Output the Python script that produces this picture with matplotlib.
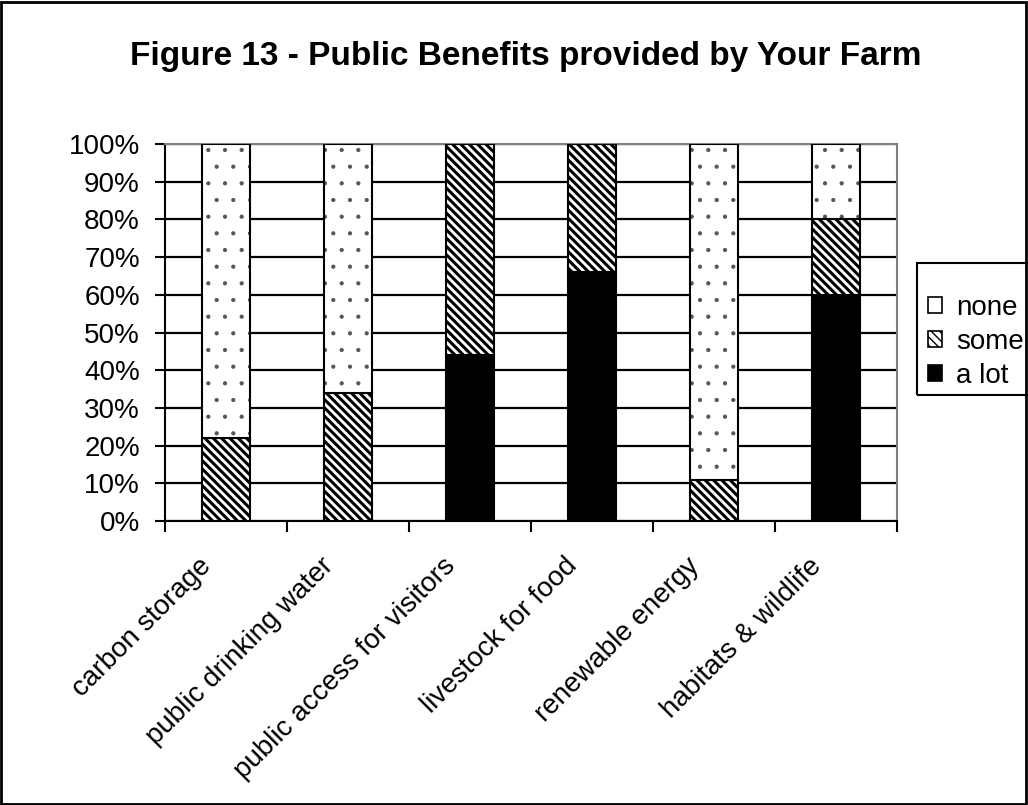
import numpy as np
import matplotlib as mpl
import matplotlib.pyplot as plt
from matplotlib.patches import Rectangle, Patch
from matplotlib.transforms import ScaledTranslation

plt.rcParams['font.family'] = ['Liberation Sans', 'DejaVu Sans']

categories = ['carbon storage', 'public drinking water', 'public access for visitors',
              'livestock for food', 'renewable energy', 'habitats & wildlife']
a_lot = [0, 0, 44, 66, 0, 60]
some = [22, 34, 56, 34, 11, 20]
none = [78, 66, 0, 0, 89, 20]
yticks = list(range(0, 101, 10))

fig = plt.figure(figsize=(10.28, 8.05), dpi=100)
ax = fig.add_axes([0.1605, 0.3528, 0.7121, 0.4683])

x = np.arange(len(categories))
w = 0.39
a_lot = np.array(a_lot)
some = np.array(some)
none = np.array(none)


def set_hatch_lw(bars, lw):
    for p in bars:
        if hasattr(p, 'set_hatch_linewidth'):
            p.set_hatch_linewidth(lw)


# solid black segment
ax.bar(x, a_lot, w, color='black', edgecolor='black', linewidth=1.5, zorder=3)

# striped segment
with mpl.rc_context({'hatch.linewidth': 2.2}):
    b = ax.bar(x, some, w, bottom=a_lot, color='white', edgecolor='black',
               hatch='\\\\\\\\', linewidth=1.5, zorder=3)
set_hatch_lw(b, 2.2)

# dotted segment: grey dots, black outline drawn on top
with mpl.rc_context({'hatch.linewidth': 0.6}):
    b = ax.bar(x, none, w, bottom=a_lot + some, color='white', edgecolor='#555555',
               hatch='.', linewidth=0, zorder=3)
set_hatch_lw(b, 0.6)
ax.bar(x, none, w, bottom=a_lot + some, fill=False, edgecolor='black',
       linewidth=1.5, zorder=4)

ax.set_xlim(-0.5, len(categories) - 0.5)
ax.set_ylim(0, 100)
ax.set_yticks(yticks)
ax.set_yticklabels([f'{v}%' for v in yticks], fontsize=20)
ax.yaxis.grid(True, color='black', linewidth=1.6, zorder=0)
ax.set_axisbelow(True)

ax.set_xticks(np.arange(-0.5, len(categories), 1.0))
ax.set_xticklabels([])
ax.set_xticks(x, minor=True)
ax.set_xticklabels(categories, minor=True, rotation=45, ha='right', va='top',
                   rotation_mode='anchor', fontsize=20)
ax.tick_params(axis='x', which='major', length=8, width=1.5, direction='out')
ax.tick_params(axis='x', which='minor', length=0, pad=23)
ax.tick_params(axis='y', length=7, width=1.5, direction='out', pad=11)
shift = ScaledTranslation(-28 / 100, 0, fig.dpi_scale_trans)
for lab in ax.xaxis.get_minorticklabels():
    lab.set_transform(lab.get_transform() + shift)

for side in ['left', 'bottom']:
    ax.spines[side].set_color('black')
    ax.spines[side].set_linewidth(1.5)
for side in ['top', 'right']:
    ax.spines[side].set_color('#808080')
    ax.spines[side].set_linewidth(1.5)

# legend: box drawn separately, it runs off the right edge
with mpl.rc_context({'hatch.linewidth': 1.6}):
    handles = [Patch(facecolor='white', edgecolor='black', linewidth=1.2, label='none'),
               Patch(facecolor='white', edgecolor='black', hatch='\\\\\\\\', linewidth=1.2,
                     label='some'),
               Patch(facecolor='black', edgecolor='black', linewidth=1.2, label='a lot')]
fig.legend(handles=handles, loc='upper left', bbox_to_anchor=(928 / 1028, 1 - 295 / 805),
           fontsize=20, frameon=False, handlelength=0.5, handleheight=0.5,
           handletextpad=0.52, labelspacing=0.29, borderpad=0, borderaxespad=0)
fig.patches.append(Rectangle((917 / 1028, 1 - 395 / 805), 0.2, 132 / 805,
                             transform=fig.transFigure, fill=False,
                             edgecolor='black', linewidth=1.5))

fig.text(0.5117, 1 - 65 / 805, 'Figure 13 - Public Benefits provided by Your Farm',
         ha='center', va='baseline', fontsize=24, fontweight='bold')

fig.patches.append(Rectangle((0.001, 0.001), 0.997, 0.997, transform=fig.transFigure,
                             fill=False, edgecolor='black', linewidth=2))

fig.savefig('out.png', dpi=100)
